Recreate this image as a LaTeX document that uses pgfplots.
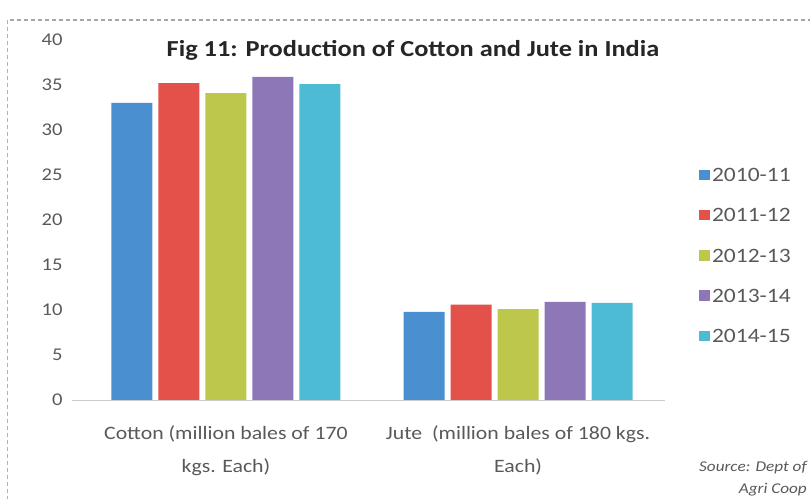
\documentclass[border=0pt]{standalone}
\usepackage{pgfplots}
\pgfplotsset{compat=1.18}
\usepackage{fontspec}
\setmainfont{Carlito}[FakeStretch=1.15]
\definecolor{cA}{HTML}{4A90D0}
\definecolor{cB}{HTML}{E4504A}
\definecolor{cC}{HTML}{BCC74C}
\definecolor{cD}{HTML}{8E77B6}
\definecolor{cE}{HTML}{4EBBD5}
\definecolor{txt}{HTML}{595959}
\begin{document}
\begin{tikzpicture}[x=1bp,y=1bp]
\useasboundingbox (-72,-99) rectangle (738,400);
\draw[gray!70, dash pattern=on 4bp off 3bp, line width=1.5bp] (-62,380) -- (738,380);
\draw[gray!60, dash pattern=on 4bp off 3bp, line width=1bp] (-64,380) -- (-64,-99);
\begin{axis}[
  at={(0,0)}, anchor=south west,
  scale only axis, width=593bp, height=360bp,
  ymin=0, ymax=40, ytick={0,5,...,40},
  xmin=-0.527, xmax=1.503,
  xtick={0,1}, xticklabels={},
  axis x line*=bottom, axis y line*=left,
  x axis line style={draw=gray!40, line width=0.8bp},
  y axis line style={draw=none},
  major tick length=0pt,
  ytick style={draw=none},
  xtick style={draw=none},
  /pgf/number format/assume math mode=true,
  yticklabel style={font=\fontsize{18}{20}\selectfont, text=txt, xshift=-6bp},
  ybar=6bp, bar width=41bp,
  clip=false,
  legend style={at={(rel axis cs:1.052,0.655)}, anchor=north west, draw=none, fill=none,
    font=\fontsize{20.5}{22}\selectfont, text=txt, row sep=21.5bp,
    /tikz/every even column/.append style={column sep=4bp}},
  legend image code/.code={\fill[#1] (0bp,-4.5bp) rectangle (11bp,6bp);},
]
\addplot[draw=none, fill=cA] coordinates {(0,33.0) (1,9.8)};
\addplot[draw=none, fill=cB] coordinates {(0,35.2) (1,10.6)};
\addplot[draw=none, fill=cC] coordinates {(0,34.1) (1,10.1)};
\addplot[draw=none, fill=cD] coordinates {(0,35.9) (1,10.9)};
\addplot[draw=none, fill=cE] coordinates {(0,35.1) (1,10.8)};
\legend{2010-11,2011-12,2012-13,2013-14,2014-15}
\node[font=\fontsize{19}{33}\selectfont, text=txt, align=center, anchor=north] at (axis cs:0,0) [yshift=-22bp] {Cotton (million bales of 170\\kgs. Each)};
\node[font=\fontsize{19}{33}\selectfont, text=txt, align=center, anchor=north] at (axis cs:1,0) [yshift=-22bp] {Jute\ \ (million bales of 180 kgs.\\Each)};
\node[font=\bfseries\fontsize{23}{26}\selectfont, text=black!85] at (rel axis cs:0.575,1.0) [yshift=-10bp] {Fig 11: Production of Cotton and Jute in India};
\node[font=\itshape\fontsize{15}{22}\selectfont, text=txt, align=right, anchor=north east] at (rel axis cs:1.245,0) [yshift=-58bp] {Source: Dept of\\Agri Coop};
\end{axis}
\end{tikzpicture}
\end{document}
